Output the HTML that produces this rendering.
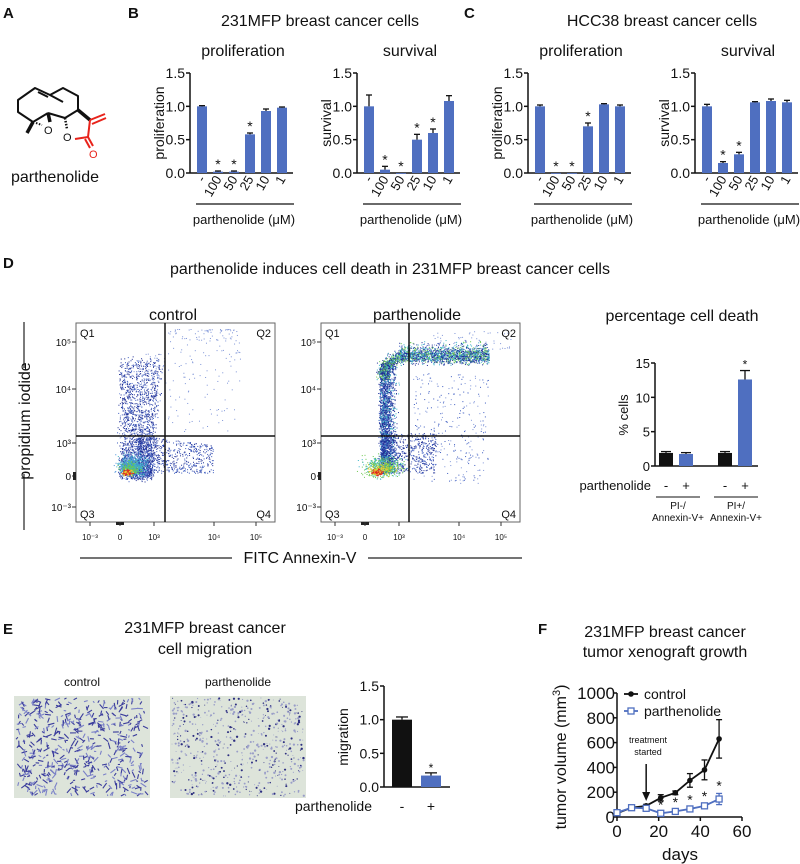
<!DOCTYPE html>
<html><head><meta charset="utf-8"><style>
html,body{margin:0;padding:0;background:#fff;}
svg{display:block;font-family:"Liberation Sans",Arial,sans-serif;}
</style></head><body>
<svg id="fig" width="800" height="864" viewBox="0 0 800 864" xmlns="http://www.w3.org/2000/svg">
<g font-weight="bold" font-size="15" fill="#111">
<text x="3" y="18">A</text>
<text x="128" y="18">B</text>
<text x="464" y="18">C</text>
<text x="3" y="268">D</text>
<text x="3" y="634">E</text>
<text x="538" y="634">F</text>
</g>
<!-- molecule -->
<g stroke="#111" stroke-width="2" fill="none" stroke-linejoin="round">
<polyline points="48,113 33,122 18,112 18,100 35,88 50,95 63,88 78,96 78,110 65,118 48,113"/>
<line x1="50" y1="95" x2="63" y2="102"/>
<line x1="38" y1="92" x2="48" y2="97"/>
<line x1="33" y1="122" x2="27" y2="133" stroke-width="3.5"/>
<line x1="48" y1="113" x2="50" y2="122" stroke-width="3.5"/>
<line x1="36" y1="123" x2="42" y2="125" stroke-dasharray="1.5 1.5"/>
<line x1="65" y1="118" x2="67" y2="129" stroke-dasharray="1.5 1.5" stroke-width="2.5"/>
<line x1="78" y1="110" x2="90" y2="120" stroke-width="3.5"/>
<polyline points="90,120 88,137 75,139" stroke="#e8231b"/>
<line x1="90" y1="120" x2="105" y2="114" stroke="#e8231b"/>
<line x1="92" y1="124" x2="106" y2="118" stroke="#e8231b"/>
<line x1="88" y1="137" x2="93" y2="146" stroke="#e8231b"/>
<line x1="85" y1="139" x2="90" y2="148" stroke="#e8231b"/>
</g>
<g font-size="11">
<text x="44" y="134" fill="#111">O</text>
<text x="63" y="141" fill="#111">O</text>
<text x="89" y="158" fill="#e8231b">O</text>
</g>
<text x="55" y="182" font-size="16" text-anchor="middle" fill="#111">parthenolide</text>

<g font-size="16" fill="#111" text-anchor="middle">
<text x="320" y="26">231MFP breast cancer cells</text>
<text x="662" y="26">HCC38 breast cancer cells</text>
<text x="243" y="56">proliferation</text>
<text x="410" y="56">survival</text>
<text x="581" y="56">proliferation</text>
<text x="748" y="56">survival</text>
<text x="390" y="274">parthenolide induces cell death in 231MFP breast cancer cells</text>
<text x="205" y="633">231MFP breast cancer</text>
<text x="205" y="654">cell migration</text>
<text x="665" y="637">231MFP breast cancer</text>
<text x="665" y="657">tumor xenograft growth</text>
<text x="173" y="320">control</text>
<text x="417" y="320">parthenolide</text>
<text x="682" y="321">percentage cell death</text>
<text x="300" y="563">FITC Annexin-V</text>
</g>
<g stroke="#222" stroke-width="1.2">
<line x1="80" y1="558" x2="232" y2="558"/><line x1="368" y1="558" x2="522" y2="558"/>
<line x1="24" y1="322" x2="24" y2="368"/><line x1="24" y1="474" x2="24" y2="530"/>
</g>
<text transform="translate(30,421) rotate(-90)" font-size="16" text-anchor="middle" fill="#111">propidium iodide</text>

<g id="charts"></g>
<g id="flow"></g>
<g id="migimg"></g>
</svg>
<script>
var NS="http://www.w3.org/2000/svg";
function mk(p,tag,a,txt){var e=document.createElementNS(NS,tag);for(var k in a)e.setAttribute(k,a[k]);if(txt!==undefined)e.textContent=txt;p.appendChild(e);return e;}
var charts=document.getElementById('charts');

// ---- data ----
var doseLabels=["-","100","50","25","10","1"];
var bProlif=[1.0,0.02,0.02,0.58,0.93,0.98];
var bProlifErr=[0.01,0.01,0.01,0.02,0.03,0.01];
var bProlifStar=[0,1,1,1,0,0];
var bSurv=[1.0,0.05,0.0,0.5,0.6,1.08];
var bSurvErr=[0.17,0.05,0.0,0.08,0.06,0.08];
var bSurvStar=[0,1,1,1,1,0];
var cProlif=[1.0,0.0,0.0,0.7,1.03,1.0];
var cProlifErr=[0.02,0,0,0.05,0.01,0.02];
var cProlifStar=[0,1,1,1,0,0];
var cSurv=[1.0,0.15,0.28,1.06,1.08,1.06];
var cSurvErr=[0.03,0.02,0.03,0.01,0.03,0.03];
var cSurvStar=[0,1,1,0,0,0];
var axisTicks=[0,0.5,1.0,1.5];
var axisTickLabels=["0.0","0.5","1.0","1.5"];

var BLUE="#4f6fc0";
function barChart(name,ax,ylab,vals,errs,stars){
  var g=mk(charts,'g',{});
  
  
  var y0=173,yt=73,ymax=1.5;
  function Y(v){return y0-v/ymax*(y0-yt);}
  function X(i){return ax+12+i*16;}
  mk(g,'line',{x1:ax,y1:yt,x2:ax,y2:y0,stroke:'#111','stroke-width':1.5});
  mk(g,'line',{x1:ax,y1:y0,x2:ax+103,y2:y0,stroke:'#111','stroke-width':1.5});
  axisTicks.forEach(function(t,i){
    mk(g,'line',{x1:ax-4,y1:Y(t),x2:ax,y2:Y(t),stroke:'#111','stroke-width':1.5});
    var tl=mk(g,'text',{x:ax-5,y:Y(t)+5,'font-size':14,'text-anchor':'end',fill:'#111'},axisTickLabels[i]);
    
    
  });
  var yl=mk(g,'text',{transform:'translate('+(ax-26)+','+((y0+yt)/2)+') rotate(-90)','font-size':14,'text-anchor':'middle',fill:'#111'},ylab);
  
  
  vals.forEach(function(v,i){
    var cx=X(i);
    var b=mk(g,'rect',{x:cx-5,y:Y(v),width:10,height:Math.max(0.8,y0-Y(v)),fill:BLUE});
    
    
    if(errs[i]>0){var ye=Y(v+errs[i]);
      mk(g,'line',{x1:cx,y1:Y(v),x2:cx,y2:ye,stroke:'#111','stroke-width':1.3});
      mk(g,'line',{x1:cx-3,y1:ye,x2:cx+3,y2:ye,stroke:'#111','stroke-width':1.3});}
    if(stars[i]){var s=mk(g,'text',{x:cx,y:Y(v+errs[i])-2,'font-size':14,'text-anchor':'middle',fill:'#111'},'*');
      
      }
    var xl=mk(g,'text',{transform:'translate('+(cx+4)+',179) rotate(-60)','font-size':13,'text-anchor':'end',fill:'#111'},doseLabels[i]);
    
    
  });
  mk(g,'line',{x1:ax+6,y1:204,x2:ax+104,y2:204,stroke:'#111','stroke-width':1.2});
  var xt=mk(g,'text',{x:ax+54,y:224,'font-size':13,'text-anchor':'middle',fill:'#111'},'parthenolide (\u03bcM)');
  
  
}
barChart('b-proliferation-chart',190,'proliferation',bProlif,bProlifErr,bProlifStar);
barChart('b-survival-chart',357,'survival',bSurv,bSurvErr,bSurvStar);
barChart('c-proliferation-chart',528,'proliferation',cProlif,cProlifErr,cProlifStar);
barChart('c-survival-chart',695,'survival',cSurv,cSurvErr,cSurvStar);

// ---- percentage cell death ----
var deathVals=[1.9,1.75,1.9,12.6];
var deathErr=[0.2,0.2,0.2,1.3];
var deathColors=["#111","#4f6fc0","#111","#4f6fc0"];
var deathSigns=["-","+","-","+"];
var deathTicks=[0,5,10,15];
(function(){
  var g=mk(charts,'g',{});
  
  
  var ax=655,y0=466,yt=363;
  function Y(v){return y0-v/15*(y0-yt);}
  var xs=[666,686,725,745];
  mk(g,'line',{x1:ax,y1:yt,x2:ax,y2:y0,stroke:'#111','stroke-width':1.5});
  mk(g,'line',{x1:ax,y1:y0,x2:758,y2:y0,stroke:'#111','stroke-width':1.5});
  deathTicks.forEach(function(t){
    mk(g,'line',{x1:ax-4,y1:Y(t),x2:ax,y2:Y(t),stroke:'#111','stroke-width':1.5});
    var tl=mk(g,'text',{x:ax-5,y:Y(t)+5,'font-size':13,'text-anchor':'end',fill:'#111'},String(t));
    
    
  });
  var yl=mk(g,'text',{transform:'translate(628,415) rotate(-90)','font-size':13,'text-anchor':'middle',fill:'#111'},'% cells');
  
  
  deathVals.forEach(function(v,i){
    var cx=xs[i];
    var b=mk(g,'rect',{x:cx-7,y:Y(v),width:14,height:y0-Y(v),fill:deathColors[i]});
    
    
    var ye=Y(v+deathErr[i]);
    mk(g,'line',{x1:cx,y1:Y(v),x2:cx,y2:ye,stroke:'#111','stroke-width':1.3});
    mk(g,'line',{x1:cx-5,y1:ye,x2:cx+5,y2:ye,stroke:'#111','stroke-width':1.3});
    var sg=mk(g,'text',{x:cx,y:490,'font-size':13,'text-anchor':'middle',fill:'#111'},deathSigns[i]);
    
    
  });
  var st=mk(g,'text',{x:745,y:Y(deathVals[3]+deathErr[3])-2,'font-size':12,'text-anchor':'middle',fill:'#111'},'*');
  
  
  var pl=mk(g,'text',{x:651,y:490,'font-size':13,'text-anchor':'end',fill:'#111'},'parthenolide');
  
  
  mk(g,'line',{x1:656,y1:497,x2:700,y2:497,stroke:'#111','stroke-width':1});
  mk(g,'line',{x1:714,y1:497,x2:758,y2:497,stroke:'#111','stroke-width':1});
  [["PI-/",678],["PI+/",736]].forEach(function(p){var t=mk(g,'text',{x:p[1],y:509,'font-size':10,'text-anchor':'middle',fill:'#111'},p[0]);});
  [["Annexin-V+",678],["Annexin-V+",736]].forEach(function(p){var t=mk(g,'text',{x:p[1],y:521,'font-size':10,'text-anchor':'middle',fill:'#111'},p[0]);});
})();

// ---- migration bars ----
var migVals=[1.0,0.17];
var migErr=[0.04,0.04];
var migColors=["#111","#4f6fc0"];
var migSigns=["-","+"];
(function(){
  var g=mk(charts,'g',{});
  
  
  var ax=384,y0=787,yt=686;
  function Y(v){return y0-v/1.5*(y0-yt);}
  var xs=[402,431];
  mk(g,'line',{x1:ax,y1:yt,x2:ax,y2:y0,stroke:'#111','stroke-width':1.5});
  mk(g,'line',{x1:ax,y1:y0,x2:450,y2:y0,stroke:'#111','stroke-width':1.5});
  axisTicks.forEach(function(t,i){
    mk(g,'line',{x1:ax-4,y1:Y(t),x2:ax,y2:Y(t),stroke:'#111','stroke-width':1.5});
    var tl=mk(g,'text',{x:ax-5,y:Y(t)+5,'font-size':14,'text-anchor':'end',fill:'#111'},axisTickLabels[i]);
    
    
  });
  var yl=mk(g,'text',{transform:'translate(348,737) rotate(-90)','font-size':14,'text-anchor':'middle',fill:'#111'},'migration');
  
  
  migVals.forEach(function(v,i){
    var cx=xs[i];
    var b=mk(g,'rect',{x:cx-10,y:Y(v),width:20,height:y0-Y(v),fill:migColors[i]});
    
    
    var ye=Y(v+migErr[i]);
    mk(g,'line',{x1:cx,y1:Y(v),x2:cx,y2:ye,stroke:'#111','stroke-width':1.3});
    mk(g,'line',{x1:cx-6,y1:ye,x2:cx+6,y2:ye,stroke:'#111','stroke-width':1.3});
    var sg=mk(g,'text',{x:cx,y:811,'font-size':14,'text-anchor':'middle',fill:'#111'},migSigns[i]);
    
    
  });
  var st=mk(g,'text',{x:431,y:Y(migVals[1]+migErr[1])-1,'font-size':12,'text-anchor':'middle',fill:'#111'},'*');
  
  
  var pl=mk(g,'text',{x:372,y:811,'font-size':14,'text-anchor':'end',fill:'#111'},'parthenolide');
  
  
})();

// ---- tumor growth ----
var days=[0,7,14,21,28,35,42,49];
var ctrlVol=[30,75,90,155,195,295,380,630];
var ctrlErr=[10,10,12,25,15,55,80,155];
var partVol=[35,75,70,30,45,65,90,145];
var partErr=[10,10,10,8,10,12,15,45];
var partStar=[0,0,0,1,1,1,1,1];
var volTicks=[0,200,400,600,800,1000];
var dayTicks=[0,20,40,60];
(function(){
  var g=mk(charts,'g',{});
  
  
  var ax=617,y0=817,yt=693,xr=742;
  function Y(v){return y0-v/1000*(y0-yt);}
  function X(d){return ax+d/60*(xr-ax);}
  mk(g,'line',{x1:ax,y1:yt,x2:ax,y2:y0,stroke:'#111','stroke-width':1.5});
  mk(g,'line',{x1:ax,y1:y0,x2:xr,y2:y0,stroke:'#111','stroke-width':1.5});
  volTicks.forEach(function(t){
    mk(g,'line',{x1:ax-4,y1:Y(t),x2:ax,y2:Y(t),stroke:'#111','stroke-width':1.5});
    var tl=mk(g,'text',{x:ax-2,y:Y(t)+6,'font-size':17,'text-anchor':'end',fill:'#111'},String(t));
    
    
  });
  dayTicks.forEach(function(t){
    mk(g,'line',{x1:X(t),y1:y0,x2:X(t),y2:y0+4,stroke:'#111','stroke-width':1.5});
    var tl=mk(g,'text',{x:X(t),y:y0+20,'font-size':17,'text-anchor':'middle',fill:'#111'},String(t));
    
    
  });
  var yl=mk(g,'text',{transform:'translate(566,757) rotate(-90)','font-size':16,'text-anchor':'middle',fill:'#111'});
  
  
  yl.innerHTML='tumor volume (mm<tspan dy="-6" font-size="11">3</tspan><tspan dy="6">)</tspan>';
  var xl=mk(g,'text',{x:680,y:860,'font-size':17,'text-anchor':'middle',fill:'#111'},'days');
  
  
  function series(vals,errs,col,sq,name){
    var pts=vals.map(function(v,i){return X(days[i])+','+Y(v);}).join(' ');
    var l=mk(g,'polyline',{points:pts,fill:'none',stroke:col,'stroke-width':1.8});
    
    
    vals.forEach(function(v,i){
      var x=X(days[i]);
      mk(g,'line',{x1:x,y1:Y(v-errs[i]),x2:x,y2:Y(v+errs[i]),stroke:col,'stroke-width':1.3});
      mk(g,'line',{x1:x-3,y1:Y(v+errs[i]),x2:x+3,y2:Y(v+errs[i]),stroke:col,'stroke-width':1.3});
      mk(g,'line',{x1:x-3,y1:Y(v-errs[i]),x2:x+3,y2:Y(v-errs[i]),stroke:col,'stroke-width':1.3});
      var m=sq?mk(g,'rect',{x:x-3,y:Y(v)-3,width:6,height:6,fill:'#fff',stroke:col,'stroke-width':1.3})
              :mk(g,'circle',{cx:x,cy:Y(v),r:2.8,fill:col});
      
      
    });
  }
  series(ctrlVol,ctrlErr,'#111',false,'control');
  series(partVol,partErr,'#4f6fc0',true,'parthenolide');
  partStar.forEach(function(s,i){if(!s)return;
    var st=mk(g,'text',{x:X(days[i]),y:Y(partVol[i]+partErr[i])-3,'font-size':14,'text-anchor':'middle',fill:'#111'},'*');
    
    
  });
  var lg=mk(g,'g',{});
  
  
  mk(lg,'line',{x1:624,y1:694,x2:638,y2:694,stroke:'#111','stroke-width':1.8});
  mk(lg,'circle',{cx:631,cy:694,r:2.8,fill:'#111'});
  var t1=mk(lg,'text',{x:644,y:699,'font-size':14,fill:'#111'},'control');
  
  
  mk(lg,'line',{x1:624,y1:711,x2:638,y2:711,stroke:'#4f6fc0','stroke-width':1.8});
  mk(lg,'rect',{x:628,y:708,width:6,height:6,fill:'#fff',stroke:'#4f6fc0','stroke-width':1.3});
  var t2=mk(lg,'text',{x:644,y:716,'font-size':14,fill:'#111'},'parthenolide');
  
  
  var a=mk(g,'g',{});
  
  
  mk(a,'text',{x:648,y:743,'font-size':9,'text-anchor':'middle',fill:'#111'},'treatment');
  mk(a,'text',{x:648,y:755,'font-size':9,'text-anchor':'middle',fill:'#111'},'started');
  mk(a,'line',{x1:X(14),y1:764,x2:X(14),y2:795,stroke:'#111','stroke-width':1.5});
  mk(a,'polygon',{points:(X(14)-4)+',792 '+(X(14)+4)+',792 '+X(14)+',801',fill:'#111'});
})();

// ---- flow cytometry plots ----
var flowYTickLabels=["10\u2075","10\u2074","10\u00b3","0","10\u207b\u00b3"];
var flowYTickPos=[342,389,443,476,507];
var flowXTickLabels=["10\u207b\u00b3","0","10\u00b3","10\u2074","10\u2075"];
var flowXTickPos=[14,44,78,138,180];
var seed=12345;
function rnd(){seed=(seed*1664525+1013904223)%4294967296;return seed/4294967296;}
function gauss(){return (rnd()+rnd()+rnd()-1.5)/0.5;}
var flow=document.getElementById('flow');
function flowPlot(name,bx,gx,parth){
  var g=mk(flow,'g',{});
  
  
  var top=323,bot=522,w=199;
  mk(g,'rect',{x:bx,y:top,width:w,height:bot-top,fill:'#fff',stroke:'#666','stroke-width':1});
  var dots=mk(g,'g',{});
  function dot(lx,ly,c,s){var x=bx+lx,y=top+ly;if(lx<2||lx>w-2||ly<2||ly>bot-top-2)return;mk(dots,'rect',{x:x,y:y,width:s||1,height:s||1,fill:c});}
  var DB='#1f2f95',MB='#3d5cc0',LB='#7f95d8',CY='#3cb4c8',GR='#6cc850',YE='#e8d030',RD='#e02a20';
  var i,lx,ly,u;
  if(!parth){
    // main vertical cloud
    for(i=0;i<2200;i++){u=Math.pow(rnd(),1.8);ly=152-u*115+gauss()*3;lx=45+rnd()*(30+u*10)+gauss()*2;dot(lx,ly,rnd()<0.55?DB:(rnd()<0.6?MB:LB));}
    // right spread low
    for(i=0;i<700;i++){u=Math.pow(rnd(),1.6);lx=62+u*75;ly=150-rnd()*(38-u*10);dot(lx,ly,rnd()<0.5?DB:MB);}
    // Q2 sparse
    for(i=0;i<170;i++){u=Math.pow(rnd(),2.2);lx=92+rnd()*72;ly=6+u*105;dot(lx,ly,LB);}
    for(i=0;i<40;i++){dot(60+rnd()*30,30+rnd()*30,LB);}
    // core
    for(i=0;i<500;i++){lx=57+gauss()*7;ly=142+gauss()*5;dot(lx,ly,rnd()<0.5?CY:'#4a90d8');}
    for(i=0;i<260;i++){lx=55+gauss()*5;ly=145+gauss()*3;dot(lx,ly,rnd()<0.6?GR:CY);}
    for(i=0;i<90;i++){lx=51+gauss()*2.5;ly=149+gauss()*1.5;dot(lx,ly,rnd()<0.5?YE:RD,1.3);}
  } else {
    // vertical band
    for(i=0;i<2000;i++){ly=150-rnd()*110;lx=57+Math.abs(gauss())*6+rnd()*6;dot(lx,ly,rnd()<0.5?DB:(rnd()<0.5?MB:CY));}
    // curve
    for(i=0;i<500;i++){var t=rnd()*1.57;lx=62+18*(1-Math.cos(t))+gauss()*3;ly=52-18*Math.sin(t)+gauss()*3;dot(lx,ly,rnd()<0.4?DB:(rnd()<0.5?CY:GR));}
    // horizontal band
    for(i=0;i<1800;i++){lx=78+rnd()*90;ly=33+gauss()*3.5-(rnd()<0.3?rnd()*10:0);dot(lx,ly,rnd()<0.35?DB:(rnd()<0.5?CY:(rnd()<0.6?GR:MB)));}
    // low right spread
    for(i=0;i<700;i++){u=Math.pow(rnd(),1.5);lx=60+u*55;ly=150-rnd()*40;dot(lx,ly,rnd()<0.6?DB:MB);}
    // Q2 lower scatter
    for(i=0;i<280;i++){lx=92+rnd()*75;ly=50+rnd()*110;dot(lx,ly,rnd()<0.5?MB:LB);}
    for(i=0;i<60;i++){dot(110+rnd()*80,8+rnd()*20,LB);}
    // core
    for(i=0;i<500;i++){lx=62+gauss()*9;ly=143+gauss()*5;dot(lx,ly,rnd()<0.5?GR:CY);}
    for(i=0;i<220;i++){lx=60+gauss()*6;ly=146+gauss()*3;dot(lx,ly,rnd()<0.6?YE:GR);}
    for(i=0;i<90;i++){lx=56+gauss()*2.5;ly=149+gauss()*1.5;dot(lx,ly,rnd()<0.3?YE:RD,1.3);}
  }
  mk(g,'line',{x1:gx,y1:top,x2:gx,y2:bot,stroke:'#111','stroke-width':1.5});
  mk(g,'line',{x1:bx,y1:436,x2:bx+w,y2:436,stroke:'#111','stroke-width':1.5});
  [["Q1",bx+4,top+14,'start'],["Q2",bx+w-4,top+14,'end'],["Q3",bx+4,bot-4,'start'],["Q4",bx+w-4,bot-4,'end']].forEach(function(q){
    var t=mk(g,'text',{x:q[1],y:q[2],'font-size':11,'text-anchor':q[3],fill:'#111'},q[0]);
    
    
  });
  flowYTickLabels.forEach(function(l,i){
    mk(g,'line',{x1:bx-4,y1:flowYTickPos[i],x2:bx,y2:flowYTickPos[i],stroke:'#333','stroke-width':1});
    var t=mk(g,'text',{x:bx-5,y:flowYTickPos[i]+4,'font-size':10,'text-anchor':'end',fill:'#111'},l);
    
    
  });
  mk(g,'rect',{x:bx-3,y:472,width:3,height:8,fill:'#222'});
  mk(g,'rect',{x:bx+40,y:522,width:8,height:3,fill:'#222'});
  flowXTickLabels.forEach(function(l,i){
    mk(g,'line',{x1:bx+flowXTickPos[i],y1:bot,x2:bx+flowXTickPos[i],y2:bot+4,stroke:'#333','stroke-width':1});
    var t=mk(g,'text',{x:bx+flowXTickPos[i],y:bot+18,'font-size':8,'text-anchor':'middle',fill:'#111'},l);
    
    
  });
}
flowPlot('flow-plot-control',76,165,false);
flowPlot('flow-plot-parthenolide',321,409,true);

// ---- migration images ----
var mi=document.getElementById('migimg');
function migImage(name,x0,y0,dense,label){
  var g=mk(mi,'g',{});
  
  
  mk(g,'rect',{x:x0,y:y0,width:136,height:102,fill:'#dde4da'});
  var i;
  if(dense){
    for(i=0;i<520;i++){var x=x0+3+rnd()*128,y=y0+3+rnd()*96,a=rnd()*6.28,l=2+rnd()*5;
      mk(g,'line',{x1:x,y1:y,x2:Math.min(x0+134,Math.max(x0+2,x+Math.cos(a)*l)),y2:Math.min(y0+100,Math.max(y0+2,y+Math.sin(a)*l)),stroke:rnd()<0.6?'#3a3c9c':'#7a80c8','stroke-width':1.1});}
  } else {
    for(i=0;i<600;i++){mk(g,'circle',{cx:x0+2+rnd()*132,cy:y0+2+rnd()*98,r:0.4+rnd()*0.8,fill:rnd()<0.3?'#2d2f80':'#9a9ec8'});}
  }
  var t=mk(mi,'text',{x:x0+68,y:y0-10,'font-size':12,'text-anchor':'middle',fill:'#111'},label);
  
  
}
migImage('migration-image-control',14,696,true,'control');
migImage('migration-image-parthenolide',170,696,false,'parthenolide');
</script>
</body></html>
